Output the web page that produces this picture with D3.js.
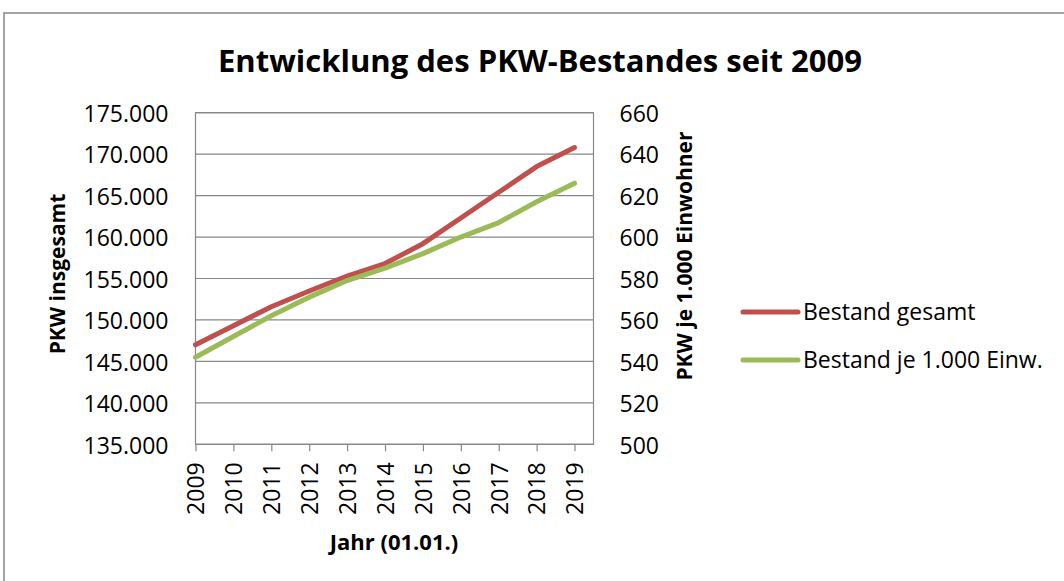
<!DOCTYPE html>
<html>
<head>
<meta charset="utf-8">
<script src="https://cdn.jsdelivr.net/npm/d3@7"></script>
<style>
  body { margin: 0; background: #fff; }
  svg text { font-family: "Open Sans", "Noto Sans", sans-serif; fill: #000; }
  .grid line { stroke: #878787; stroke-width: 1.2; }
</style>
</head>
<body>
<svg id="chart" width="1064" height="581"></svg>
<script>
// Daten
const years = [2009, 2010, 2011, 2012, 2013, 2014, 2015, 2016, 2017, 2018, 2019];
const bestandGesamt = [147000, 149300, 151600, 153500, 155300, 156800, 159200, 162300, 165400, 168500, 170800];
const bestandJe1000 = [542, 552, 562, 571, 579, 585, 592, 600, 607, 617, 626];
const leftTicks = [135000, 140000, 145000, 150000, 155000, 160000, 165000, 170000, 175000];
const rightTicks = [500, 520, 540, 560, 580, 600, 620, 640, 660];
const seriesNames = ["Bestand gesamt", "Bestand je 1.000 Einw."];
const seriesColors = ["#C0504D", "#9BBB59"];

const svg = d3.select("#chart");
const plot = {x: 195.5, y: 112.7, w: 398, h: 331.6};

const de = d3.formatLocale({decimal: ",", thousands: ".", grouping: [3], currency: ["", " €"]});
const fmt = de.format(",d");

const x = d3.scaleLinear().domain([0, years.length - 0.5]).range([plot.x, plot.x + plot.w]);
const yL = d3.scaleLinear().domain([135000, 175000]).range([plot.y + plot.h, plot.y]);
const yR = d3.scaleLinear().domain([500, 660]).range([plot.y + plot.h, plot.y]);

// äußerer Rahmen (rechts/unten abgeschnitten)
svg.append("rect").attr("x", 4).attr("y", 13).attr("width", 1100).attr("height", 600)
  .attr("fill", "none").attr("stroke", "#878787").attr("stroke-width", 1.5);

// Titel
svg.append("text").attr("x", 540).attr("y", 72).attr("text-anchor", "middle")
  .attr("font-size", "31px").attr("font-weight", "bold")
  .attr("textLength", 644).attr("lengthAdjust", "spacingAndGlyphs")
  .text("Entwicklung des PKW-Bestandes seit 2009");

// Gitterlinien
svg.append("g").attr("class", "grid")
  .selectAll("line").data(leftTicks).join("line")
  .attr("x1", plot.x).attr("x2", plot.x + plot.w)
  .attr("y1", d => yL(d)).attr("y2", d => yL(d));

// Rahmen Plotfläche
svg.append("rect").attr("x", plot.x).attr("y", plot.y).attr("width", plot.w).attr("height", plot.h)
  .attr("fill", "none").attr("stroke", "#878787").attr("stroke-width", 1.2);

// linke Achse
const axL = svg.append("g").attr("transform", `translate(${plot.x},0)`)
  .call(d3.axisLeft(yL).tickValues(leftTicks).tickFormat(fmt).tickSize(0).tickPadding(27));
axL.select(".domain").remove();
axL.selectAll("text").attr("font-size", "23px").attr("font-family", "Open Sans").attr("dy", "0.38em");

// rechte Achse
const axR = svg.append("g").attr("transform", `translate(${plot.x + plot.w},0)`)
  .call(d3.axisRight(yR).tickValues(rightTicks).tickSize(0).tickPadding(26));
axR.select(".domain").remove();
axR.selectAll("text").attr("font-size", "23px").attr("font-family", "Open Sans").attr("dy", "0.38em");

// x-Achse
const axX = svg.append("g").attr("transform", `translate(0,${plot.y + plot.h})`)
  .call(d3.axisBottom(x).tickValues(d3.range(years.length)).tickFormat(i => years[i]).tickSize(7).tickSizeOuter(0));
axX.select(".domain").remove();
axX.selectAll(".tick line").attr("stroke", "#878787").attr("stroke-width", 1.2);
axX.selectAll("text").attr("font-size", "23px").attr("font-family", "Open Sans")
  .attr("transform", "rotate(-90)").attr("text-anchor", "end")
  .attr("x", -18).attr("y", 0).attr("dy", "0.36em");

// Achsentitel
svg.append("text").attr("transform", "translate(65,274) rotate(-90)").attr("text-anchor", "middle")
  .attr("font-size", "21px").attr("font-weight", "bold").text("PKW insgesamt");
svg.append("text").attr("transform", "translate(692,256) rotate(-90)").attr("text-anchor", "middle")
  .attr("font-size", "21px").attr("font-weight", "bold").text("PKW je 1.000 Einwohner");
svg.append("text").attr("x", 394).attr("y", 550).attr("text-anchor", "middle")
  .attr("font-size", "22px").attr("font-weight", "bold").text("Jahr (01.01.)");

// Linien
const lineL = d3.line().x((d, i) => x(i)).y(d => yL(d));
const lineR = d3.line().x((d, i) => x(i)).y(d => yR(d));
svg.append("path").datum(bestandGesamt).attr("d", lineL)
  .attr("fill", "none").attr("stroke", seriesColors[0]).attr("stroke-width", 5)
  .attr("stroke-linejoin", "round").attr("stroke-linecap", "round");
svg.append("path").datum(bestandJe1000).attr("d", lineR)
  .attr("fill", "none").attr("stroke", seriesColors[1]).attr("stroke-width", 5)
  .attr("stroke-linejoin", "round").attr("stroke-linecap", "round");

// Legende
const leg = svg.append("g").selectAll("g").data(seriesNames).join("g")
  .attr("transform", (d, i) => `translate(743,${312 + i * 48})`);
leg.append("line").attr("x1", 0).attr("x2", 55).attr("y1", 0).attr("y2", 0)
  .attr("stroke", (d, i) => seriesColors[i]).attr("stroke-width", 5).attr("stroke-linecap", "round");
leg.append("text").attr("x", 60).attr("y", 0).attr("dy", "0.35em")
  .attr("font-size", "23px").text(d => d);
</script>
</body>
</html>
